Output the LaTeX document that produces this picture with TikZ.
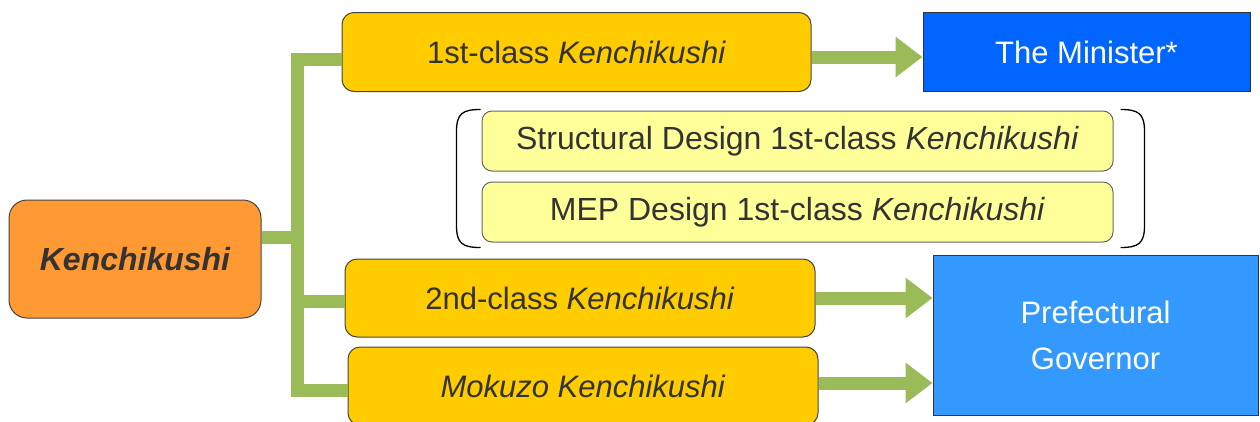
\documentclass[tikz,border=0pt]{standalone}
\usepackage{fontspec}
\setmainfont{Liberation Sans}
\usetikzlibrary{arrows.meta}
\definecolor{kOrange}{HTML}{FF9933}
\definecolor{kYellow}{HTML}{FFCC00}
\definecolor{kPale}{HTML}{FFFF99}
\definecolor{kBlue}{HTML}{0066FF}
\definecolor{kSky}{HTML}{3399FF}
\definecolor{kGreen}{HTML}{9BBB59}
\definecolor{kText}{HTML}{333333}
\definecolor{kEdge}{HTML}{444444}
\tikzset{
  basebox/.style={draw=kEdge, line width=1pt, inner sep=0pt, align=center,
    font=\fontsize{31}{37}\selectfont, text=kText},
  rootbox/.style={basebox, fill=kOrange, rounded corners=18pt,
    font=\fontsize{32}{38}\selectfont\bfseries\itshape},
  classbox/.style={basebox, fill=kYellow, rounded corners=12pt},
  palebox/.style={basebox, fill=kPale, draw=gray!80!black, rounded corners=10pt,
    font=\fontsize{32}{38}\selectfont},
  authbox/.style={basebox, draw=black!80, text=white},
  tree/.style={draw=kGreen, line width=13pt, line cap=butt, line join=miter},
  flow/.style={draw=kGreen, line width=13pt,
    -{Triangle[length=27pt,width=39pt]}, kGreen},
  brace/.style={draw=black, line width=1.3pt}
}
\begin{document}
\begin{tikzpicture}[x=1pt,y=-1pt]
\useasboundingbox (0,0) rectangle (1260,421);

% qualification boxes
\node[rootbox, minimum width=252pt, minimum height=118pt] (k) at (135,259) {Kenchikushi};
\node[classbox, minimum width=469pt, minimum height=79pt] (c1) at (576.5,52) {1st-class \textit{Kenchikushi}};
\node[palebox, minimum width=631pt, minimum height=60pt] (sd) at (797.5,141) {Structural Design 1st-class \textit{Kenchikushi}};
\node[palebox, minimum width=631pt, minimum height=60pt] (mep) at (797.5,212) {MEP Design 1st-class \textit{Kenchikushi}};
\node[classbox, minimum width=470pt, minimum height=78pt] (c2) at (580,298) {2nd-class \textit{Kenchikushi}};
\node[classbox, minimum width=470pt, minimum height=78pt] (mk) at (583,386) {\textit{Mokuzo Kenchikushi}};

% licensing authorities
\node[authbox, fill=kBlue, minimum width=327pt, minimum height=79pt] (min) at (1086.5,52) {The Minister*};
\node[authbox, fill=kSky, minimum width=325pt, minimum height=160pt,
  font=\fontsize{31}{46}\selectfont] (gov) at (1095.5,335) {Prefectural\\Governor};

% tree connector (y axis points down, so canvas yshift is inverted)
\coordinate (tt) at (297,59);
\coordinate (tb) at (297,390);
\draw[tree] ([yshift=-7pt]c1.west) -- (tt) -- (tb) -- (tb -| mk.west);
\draw[tree] ([yshift=22pt]k.east) -- ([yshift=22pt]k.east -| tt);
\draw[tree] ([yshift=-3pt]c2.west -| tt) -- ([yshift=-3pt]c2.west);

% arrows to authorities
\draw[flow] ([yshift=-5pt]c1.east) -- ([yshift=-5pt]c1.east -| min.west);
\draw[flow] (c2.east) -- (c2.east -| gov.west);
\draw[flow] ([yshift=3pt]mk.east) -- ([yshift=3pt]mk.east -| gov.west);

% parentheses around the 1st-class specialisations
\draw[brace] ([xshift=-1pt,yshift=1pt]sd.north west) .. controls +(-18,0) and +(0,-18) .. ++(-24,22)
  -- ([xshift=-25pt,yshift=17pt]mep.south west) .. controls +(0,18) and +(-18,0) .. ([xshift=-1pt,yshift=-5pt]mep.south west);
\draw[brace] ([xshift=7pt,yshift=1pt]sd.north east) .. controls +(18,0) and +(0,-18) .. ++(24,22)
  -- ([xshift=31pt,yshift=17pt]mep.south east) .. controls +(0,18) and +(18,0) .. ([xshift=7pt,yshift=-5pt]mep.south east);
\end{tikzpicture}
\end{document}
